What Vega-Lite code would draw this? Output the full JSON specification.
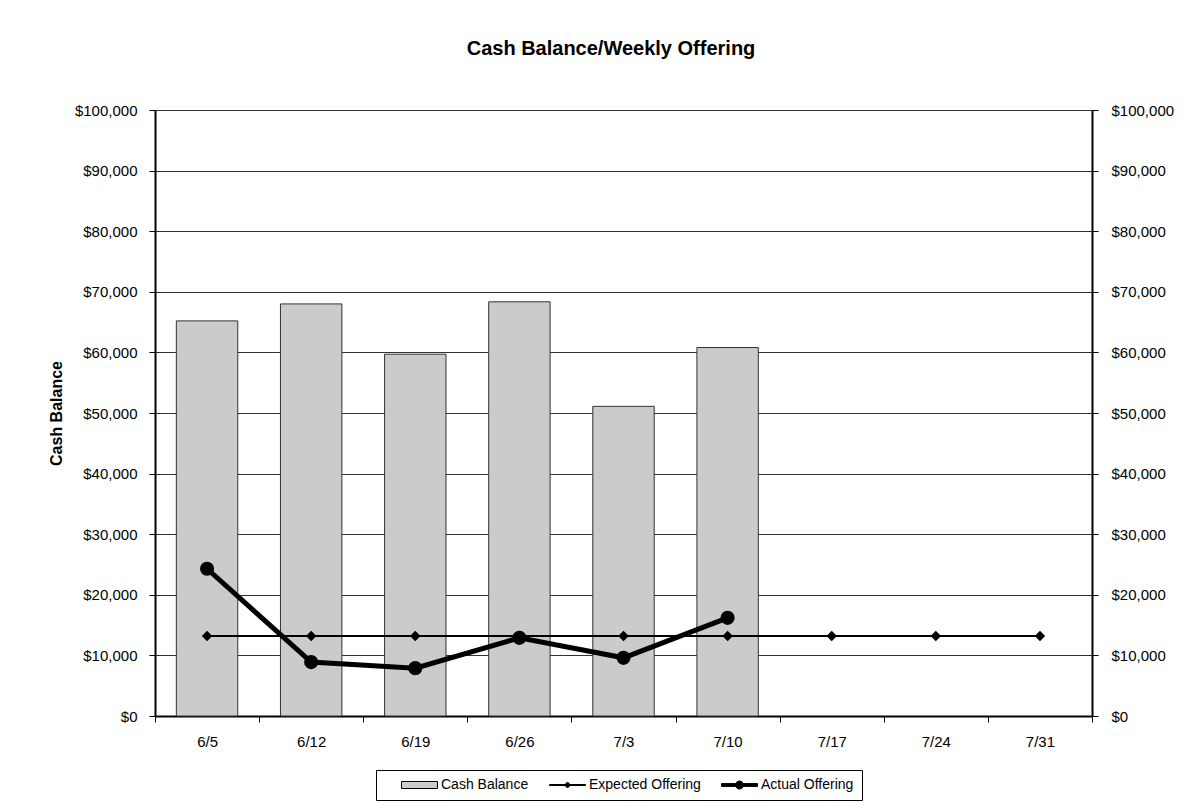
{
  "$schema": "https://vega.github.io/schema/vega-lite/v6.json",
  "width": 937,
  "height": 606,
  "autosize": {"type": "none"},
  "padding": {"left": 155, "top": 110, "right": 112, "bottom": 93},
  "background": "white",
  "title": {"text": "Cash Balance/Weekly Offering", "fontSize": 20, "font": "Liberation Sans", "fontWeight": "bold", "anchor": "middle", "frame": "bounds", "offset": 44, "color": "black"},
  "config": {"view": {"stroke": null}, "font": "Liberation Sans"},
  "data": {"values": [
    {"week": "6/5", "Cash Balance": 65200, "Expected Offering": 13200, "Actual Offering": 24300},
    {"week": "6/12", "Cash Balance": 68000, "Expected Offering": 13200, "Actual Offering": 8900},
    {"week": "6/19", "Cash Balance": 59700, "Expected Offering": 13200, "Actual Offering": 7900},
    {"week": "6/26", "Cash Balance": 68350, "Expected Offering": 13200, "Actual Offering": 12900},
    {"week": "7/3", "Cash Balance": 51100, "Expected Offering": 13200, "Actual Offering": 9600},
    {"week": "7/10", "Cash Balance": 60800, "Expected Offering": 13200, "Actual Offering": 16200},
    {"week": "7/17", "Cash Balance": null, "Expected Offering": 13200, "Actual Offering": null},
    {"week": "7/24", "Cash Balance": null, "Expected Offering": 13200, "Actual Offering": null},
    {"week": "7/31", "Cash Balance": null, "Expected Offering": 13200, "Actual Offering": null}
  ]},
  "encoding": {
    "x": {"field": "week", "type": "ordinal", "sort": null, "scale": {"paddingInner": 0, "paddingOuter": 0},
      "axis": {"title": null, "labelAngle": 0, "labelFontSize": 15, "labelColor": "black", "tickBand": "extent", "tickSize": 6, "tickColor": "black", "domainColor": "black", "domainWidth": 2, "labelPadding": 12, "grid": false}}
  },
  "layer": [
    {
      "mark": {"type": "bar", "width": {"band": 0.59}, "fill": "#cbcbcb", "stroke": "#333333", "strokeWidth": 1},
      "encoding": {
        "y": {"field": "Cash Balance", "type": "quantitative", "scale": {"domain": [0, 100000], "nice": false},
          "axis": {"title": "Cash Balance", "orient": "left", "format": "$,.0f", "values": [0,10000,20000,30000,40000,50000,60000,70000,80000,90000,100000], "grid": true, "gridColor": "#333333", "gridWidth": 1, "domainColor": "black", "domainWidth": 2, "tickColor": "black", "tickSize": 6, "labelFontSize": 15, "labelColor": "black", "labelPadding": 12, "titleFontSize": 16, "titleFontWeight": "bold", "titleColor": "black", "titlePadding": 10}}
      }
    },
    {
      "mark": {"type": "line", "color": "black", "strokeWidth": 2},
      "encoding": {
        "y": {"field": "Expected Offering", "type": "quantitative", "scale": {"domain": [0, 100000], "nice": false},
          "axis": {"title": null, "orient": "right", "format": "$,.0f", "values": [0,10000,20000,30000,40000,50000,60000,70000,80000,90000,100000], "grid": false, "domainColor": "black", "domainWidth": 2, "tickColor": "black", "tickSize": 6, "labelFontSize": 15, "labelColor": "black", "labelPadding": 13}}
      }
    },
    {
      "mark": {"type": "point", "shape": "diamond", "filled": true, "color": "black", "size": 110, "opacity": 1},
      "encoding": {
        "y": {"field": "Expected Offering", "type": "quantitative", "scale": {"domain": [0, 100000], "nice": false}, "axis": null}
      }
    },
    {
      "mark": {"type": "line", "color": "black", "strokeWidth": 5},
      "encoding": {
        "y": {"field": "Actual Offering", "type": "quantitative", "scale": {"domain": [0, 100000], "nice": false}, "axis": null}
      }
    },
    {
      "mark": {"type": "point", "shape": "circle", "filled": true, "color": "black", "size": 200, "opacity": 1},
      "encoding": {
        "y": {"field": "Actual Offering", "type": "quantitative", "scale": {"domain": [0, 100000], "nice": false}, "axis": null}
      }
    },
    {
      "transform": [{"fold": ["Cash Balance", "Expected Offering", "Actual Offering"], "as": ["series", "value"]}],
      "mark": {"type": "point", "filled": true, "opacity": 0, "stroke": "black", "strokeWidth": 1},
      "encoding": {
        "y": {"field": "value", "type": "quantitative", "scale": {"domain": [0, 100000], "nice": false}, "axis": null},
        "shape": {"field": "series", "type": "nominal",
          "scale": {"domain": ["Cash Balance", "Expected Offering", "Actual Offering"],
            "range": ["M-3.6,-0.7H3.6V0.7H-3.6Z", "M-3.6,-0.1H3.6V0.1H-3.6Z M-0.6,0L0,-0.6L0.6,0L0,0.6Z", "M-3.6,-0.28H3.6V0.28H-3.6Z M-0.8,0A0.8,0.8 0 1,1 0.8,0A0.8,0.8 0 1,1 -0.8,0Z"]},
          "legend": {"title": null, "orient": "none", "legendX": 221, "legendY": 660, "direction": "horizontal", "columns": 3, "symbolSize": 100, "symbolOffset": 28.5, "symbolStrokeWidth": 1, "symbolStrokeColor": "black", "symbolOpacity": 1, "labelFontSize": 14, "labelColor": "black", "labelOffset": 14.5, "columnPadding": 3, "strokeColor": "black", "padding": 8, "fillColor": "white"}},
        "color": {"field": "series", "type": "nominal",
          "scale": {"domain": ["Cash Balance", "Expected Offering", "Actual Offering"], "range": ["#cbcbcb", "black", "black"]}}
      }
    }
  ],
  "resolve": {"scale": {"y": "independent"}}
}
